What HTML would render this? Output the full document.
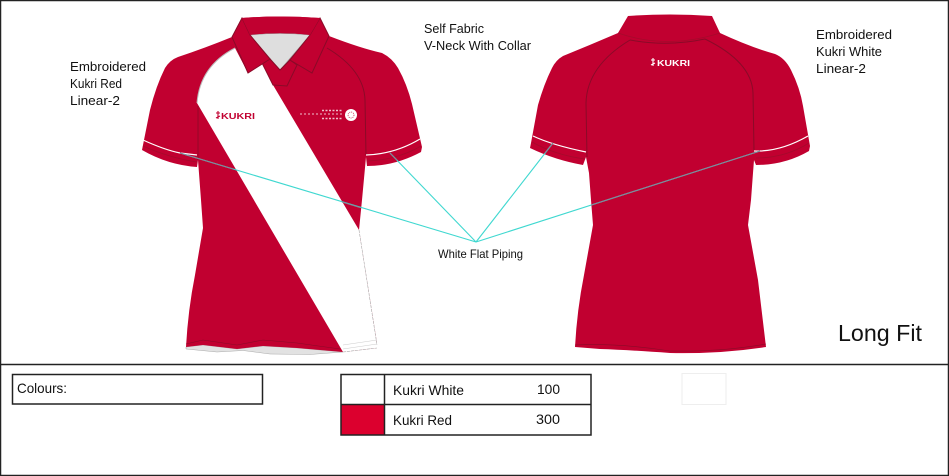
<!DOCTYPE html>
<html><head><meta charset="utf-8"><style>
html,body{margin:0;padding:0;background:#fff;width:949px;height:476px;overflow:hidden}
svg{display:block}
text{font-family:"Liberation Sans",sans-serif;fill:#111}
</style></head><body>
<svg width="949" height="476" viewBox="0 0 949 476" xmlns="http://www.w3.org/2000/svg">
<rect x="0.5" y="0.5" width="948" height="475" fill="#fff" stroke="#222" stroke-width="1.5"/>
<line x1="0" y1="364.5" x2="949" y2="364.5" stroke="#222" stroke-width="1.5"/>

<!-- FRONT SHIRT -->
<path d="M186 347 L203 345 L237 349 L263 346 L297 348 L343 352 L310 354.5 L270 354 L243 350.5 L217 352 L186 349Z" fill="#e2e2e2" stroke="#aaa" stroke-width=".5"/>
<path d="M242 18 Q280 15 320 18 L329 36 Q360 48 382 53 Q392 58 398 68 Q407 84 412 104 L422 147 L421 152 Q395 166 367 166 L366 157 L362 200 L359 230 L377 343 L377 348 L343 352 L297 348 L263 346 L237 349 L203 345 L186 347 Q188 310 195 275 L203 228 L201 200 L198 160 L197 167 Q168 165 142 150 L143 145 L150 110 Q156 86 165 68 Q170 60 178 57 Q205 48 232 37Z" fill="#c10030"/>
<!-- white panels -->
<path d="M235 48 Q200 66 197 103 L343 352 L377 348 L377 343 L359 230 L273 85 L262 63 L248 73Z" fill="#fff"/>
<path d="M343 345 L377 340 M343 349 L377 344" stroke="#ccc" stroke-width=".6" fill="none"/>
<path d="M343 352 L377 348 M359 230 L377 345" stroke="#aaa" stroke-width=".6" fill="none" stroke-dasharray="3 1"/>
<path d="M235 48 Q200 66 197 103" fill="none" stroke="#bbb" stroke-width="1"/>
<!-- neck -->
<path d="M250 35 Q280 32 310 35 L280 70Z" fill="#dedede" stroke="#999" stroke-width=".6"/>
<!-- placket -->
<path d="M262 63 L270 59 L280 70 L290 60 L297 65 L287 86 L273 85Z" fill="#c10030" stroke="#8a0a28" stroke-width="1"/>
<!-- collar -->
<path d="M242 18 L232 37 L248 73 L270 59 L250 35Z" fill="#c10030" stroke="#8a0a28" stroke-width="1"/>
<path d="M320 18 L329 36 L312 73 L290 60 L310 35Z" fill="#c10030" stroke="#8a0a28" stroke-width="1"/>
<path d="M242 18 Q280 15 320 18 L310 35 Q280 31 250 35Z" fill="#c10030"/>
<!-- seams -->
<path d="M327 48 Q364 70 365 100 L366 155" fill="none" stroke="#8a0a28" stroke-width="1"/>
<path d="M198 106 L198 160" fill="none" stroke="#8a0a28" stroke-width=".8"/>
<path d="M186 344 L203 340 L237 345 L263 340 L297 343 L340 349" fill="none" stroke="#8a0a28" stroke-width=".6"/>
<path d="M143 140 Q165 150 180 153 L197 155" fill="none" stroke="#fff" stroke-width="1.2"/>
<path d="M366 155 Q395 154 420 139" fill="none" stroke="#fff" stroke-width="1.2"/>
<path d="M143 146 Q170 158 197 162 M367 161 Q397 160 421 146" fill="none" stroke="#a50a2c" stroke-width=".8"/>
<!-- logos -->
<text x="221" y="119" font-size="8" font-weight="bold" style="fill:#c10030" textLength="34" lengthAdjust="spacingAndGlyphs">KUKRI</text>
<path d="M218 111 L218 119 M216 113 L220 113 M216 118 L220 116" stroke="#c10030" stroke-width="1.1" fill="none"/>
<path d="M300 114 L342 114" stroke="#fff" stroke-width="1" stroke-dasharray="2 2" opacity=".75"/>
<path d="M322 110.500 L342 110.500 M322 118.500 L342 118.500" stroke="#fff" stroke-width="1.500" stroke-dasharray="2 1.500" opacity=".75"/>
<circle cx="351" cy="115" r="6" fill="#fff"/>
<circle cx="351" cy="115" r="3" fill="none" stroke="#c10030" stroke-width=".7" stroke-dasharray="1 1"/>

<!-- BACK SHIRT -->
<path d="M628 16 Q670 13 712 16 L720 33 Q750 47 775 54 Q785 58 791 70 Q800 88 803 106 L810 146 L809 151 Q785 165 756 165 L754 160 L753 173 L751 200 L748 225 L758 280 L766 347 Q720 354 670 353 Q630 350 600 349 L575 347 Q577 310 584 275 L593 225 L591 200 L589 173 L586 157 L583 165 Q555 160 530 148 L531 143 L538 105 Q544 84 552 68 Q556 60 563 56 Q590 45 618 33Z" fill="#c10030"/>
<path d="M618 33 Q667 50 720 33" fill="none" stroke="#a50a2c" stroke-width=".8"/>
<path d="M630 40 Q587 66 586 103 L587 157" fill="none" stroke="#8a0a28" stroke-width="1"/>
<path d="M705 39 Q752 62 753 93 L754 150" fill="none" stroke="#8a0a28" stroke-width="1"/>
<path d="M630 40 Q667 47 705 39" fill="none" stroke="#8a0a28" stroke-width="1"/>
<path d="M533 136 Q552 145 586 152" fill="none" stroke="#fff" stroke-width="1.2"/>
<path d="M754 151 Q780 152 808 136" fill="none" stroke="#fff" stroke-width="1.2"/>
<path d="M532 142 Q555 155 585 159 M756 158 Q785 158 809 143" fill="none" stroke="#a50a2c" stroke-width=".8"/>
<path d="M575 345 Q620 343 670 351 Q720 352 766 344" fill="none" stroke="#8a0a28" stroke-width=".6"/>
<text x="657" y="66" font-size="8" font-weight="bold" style="fill:#fff" textLength="33" lengthAdjust="spacingAndGlyphs">KUKRI</text>
<path d="M653 58 L653 66 M651 60 L655 60 M651 65 L655 63" stroke="#fff" stroke-width="1.100" fill="none"/>

<!-- leaders -->
<g fill="none" stroke-width="1.100">
<path d="M476 242 L180 153" stroke="#3fd8d0"/>
<path d="M476 242 L390 153" stroke="#3fd8d0"/>
<path d="M476 242 L553 143" stroke="#3fd8d0"/>
<path d="M476 242 L760 151" stroke="#3fd8d0"/>
<path d="M180 153 L233 169 M342 202 L360 207.500 M390 153 L397 160" stroke="#7f8a9a"/>
<path d="M553 143 L545 153 M591 205 L760 151" stroke="#7f8a9a"/>
</g>

<!-- labels -->
<text x="70" y="71" font-size="13" textLength="76" lengthAdjust="spacingAndGlyphs">Embroidered</text>
<text x="70" y="88" font-size="13" textLength="52" lengthAdjust="spacingAndGlyphs">Kukri Red</text>
<text x="70" y="105" font-size="13" textLength="50" lengthAdjust="spacingAndGlyphs">Linear-2</text>
<text x="424" y="33" font-size="13" textLength="60" lengthAdjust="spacingAndGlyphs">Self Fabric</text>
<text x="424" y="50" font-size="13" textLength="107" lengthAdjust="spacingAndGlyphs">V-Neck With Collar</text>
<text x="816" y="39" font-size="13" textLength="76" lengthAdjust="spacingAndGlyphs">Embroidered</text>
<text x="816" y="56" font-size="13" textLength="66" lengthAdjust="spacingAndGlyphs">Kukri White</text>
<text x="816" y="73" font-size="13" textLength="50" lengthAdjust="spacingAndGlyphs">Linear-2</text>
<text x="438" y="258" font-size="12" textLength="85" lengthAdjust="spacingAndGlyphs">White Flat Piping</text>
<text x="838" y="341" font-size="23" textLength="84" lengthAdjust="spacingAndGlyphs">Long Fit</text>

<!-- colours box -->
<rect x="12.500" y="374.500" width="250" height="29.500" fill="#fff" stroke="#222" stroke-width="1.500"/>
<text x="17" y="393" font-size="14" textLength="50" lengthAdjust="spacingAndGlyphs">Colours:</text>

<!-- table -->
<rect x="341" y="405" width="43" height="30" fill="#dc002e"/>
<rect x="341" y="374.500" width="250" height="60.500" fill="none" stroke="#222" stroke-width="1.500"/>
<line x1="384.500" y1="374" x2="384.500" y2="435" stroke="#222" stroke-width="1.500"/>
<line x1="341" y1="404.500" x2="591" y2="404.500" stroke="#222" stroke-width="1.500"/>
<text x="393" y="395" font-size="14" textLength="71" lengthAdjust="spacingAndGlyphs">Kukri White</text>
<text x="537" y="394" font-size="14" textLength="23" lengthAdjust="spacingAndGlyphs">100</text>
<text x="393" y="425" font-size="14" textLength="59" lengthAdjust="spacingAndGlyphs">Kukri Red</text>
<text x="536" y="424" font-size="14" textLength="24" lengthAdjust="spacingAndGlyphs">300</text>
<rect x="682" y="373.500" width="44" height="31" fill="#fff" stroke="#eee" stroke-width="1"/>
</svg>
</body></html>
